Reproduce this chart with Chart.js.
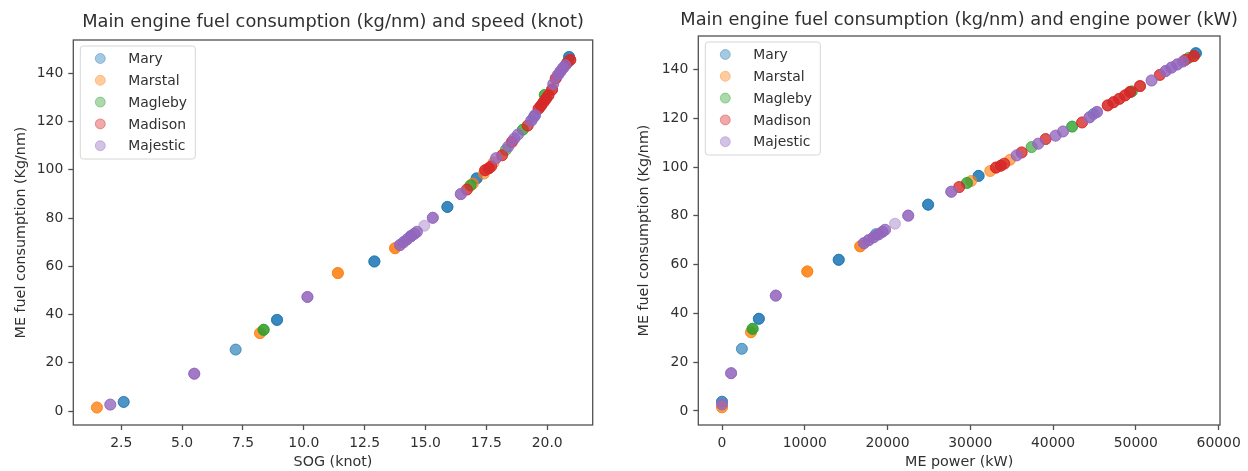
<!DOCTYPE html>
<html>
<head>
<meta charset="utf-8">
<title>ME fuel consumption</title>
<script src="https://cdn.jsdelivr.net/npm/chart.js@4.4.0/dist/chart.umd.min.js"></script>
<style>
  html, body { margin: 0; padding: 0; background: #fff; }
  body { width: 1248px; height: 471px; position: relative; overflow: hidden; }
  canvas { position: absolute; top: 0; }
  #sogChart { left: 0; }
  #powerChart { left: 620px; }
</style>
</head>
<body>
<canvas id="sogChart" width="620" height="471"></canvas>
<canvas id="powerChart" width="628" height="471"></canvas>
<script>
const vessels = ["Mary", "Marstal", "Magleby", "Madison", "Majestic"];

const sogTicks = [2.5, 5, 7.5, 10, 12.5, 15, 17.5, 20];
const powerTicks = [0, 10000, 20000, 30000, 40000, 50000, 60000];
const fuelTicks = [0, 20, 40, 60, 80, 100, 120, 140];

// one entry per operating condition, count = number of log rows at it
const marySog = [2.6, 7.2, 8.9, 12.9, 14.4, 15.9, 17.1, 19.45, 20.9];
const maryPower = [0, 2400, 4450, 14100, 18600, 24900, 31000, 44900, 57250];
const maryFuel = [3.8, 25.5, 37.8, 62.0, 72.5, 84.6, 96.4, 121.8, 146.7];
const maryCount = [3, 2, 4, 4, 2, 4, 4, 2, 4];

const marstalSog = [1.5, 8.2, 11.4, 13.75, 16.95, 17.4, 17.8];
const marstalPower = [0, 3500, 10300, 16700, 30100, 32400, 34800];
const marstalFuel = [1.5, 32.3, 57.2, 67.5, 94.3, 98.4, 103.0];
const marstalCount = [3, 3, 4, 4, 2, 2, 2];

const maglebySog = [8.35, 16.85, 18.3, 19.0, 19.9, 20.85];
const maglebyPower = [3700, 29600, 37400, 42300, 49500, 56400];
const maglebyFuel = [33.7, 93.5, 108.2, 116.6, 131.0, 144.8];
const maglebyCount = [4, 3, 2, 3, 3, 2];

const madisonSog = [16.7, 17.45, 17.6, 17.7, 18.15, 18.55, 19.2, 19.65, 19.75, 19.85, 19.95, 20.05, 20.2, 20.35, 20.8, 20.95];
const madisonPower = [28650, 33100, 33700, 34100, 36200, 39100, 43500, 46600, 47300, 48000, 48700, 49300, 50500, 52900, 56000, 57000];
const madisonFuel = [91.8, 99.8, 100.6, 101.4, 106.0, 111.5, 118.3, 125.3, 126.6, 128.0, 129.4, 130.8, 133.2, 137.8, 144.0, 145.5];
const madisonCount = [3, 4, 4, 3, 3, 3, 3, 4, 4, 4, 4, 4, 4, 3, 3, 4];

const majesticSog = [2.05, 5.5, 10.15, 13.95, 14.1, 14.25, 14.4, 14.55, 14.65, 14.95, 15.3, 16.45, 17.9, 18.4, 18.65, 18.8, 19.35, 19.5, 20.25, 20.45, 20.55, 20.65, 20.75];
const majesticPower = [0, 1100, 6500, 17150, 17700, 18300, 18900, 19400, 19700, 20900, 22500, 27700, 35600, 38200, 40300, 41200, 44400, 45300, 51900, 53600, 54300, 55000, 55700];
const majesticFuel = [2.7, 15.5, 47.3, 68.8, 70.0, 71.2, 72.4, 73.5, 74.3, 76.8, 80.1, 89.9, 104.8, 109.6, 112.9, 114.6, 120.4, 122.6, 135.5, 139.4, 140.8, 142.1, 143.3];
const majesticCount = [3, 4, 4, 4, 4, 4, 4, 4, 3, 1, 4, 4, 3, 3, 3, 3, 4, 4, 3, 4, 4, 4, 3];

const sogByVessel = [marySog, marstalSog, maglebySog, madisonSog, majesticSog];
const powerByVessel = [maryPower, marstalPower, maglebyPower, madisonPower, majesticPower];
const fuelByVessel = [maryFuel, marstalFuel, maglebyFuel, madisonFuel, majesticFuel];
const countByVessel = [maryCount, marstalCount, maglebyCount, madisonCount, majesticCount];

const colors = ["31, 119, 180", "255, 127, 14", "44, 160, 44", "214, 39, 40", "148, 103, 189"];
const alpha = 0.4;
const fontFamily = "'DejaVu Sans', sans-serif";
const textColor = "#303030";
const axisColor = "#505050";

function buildPoints(xs, fuel, count) {
  const pts = [];
  xs.forEach((x, i) => {
    for (let k = 0; k < count[i]; k++) {
      pts.push({ x: x, y: fuel[i] });
    }
  });
  return pts;
}

// axes box drawn on all four sides
const framePlugin = {
  id: "frame",
  afterDatasetsDraw(chart) {
    const { ctx, chartArea: a } = chart;
    ctx.save();
    ctx.strokeStyle = axisColor;
    ctx.lineWidth = 1.3;
    ctx.strokeRect(a.left, a.top, a.right - a.left, a.bottom - a.top);
    ctx.restore();
  },
};

// title centred over the plot area, allowed to run wider than it
const plotTitle = {
  id: "plotTitle",
  afterDraw(chart, args, opts) {
    const { ctx, chartArea: a } = chart;
    ctx.save();
    ctx.font = "17.8px " + fontFamily;
    ctx.fillStyle = textColor;
    ctx.textAlign = "center";
    ctx.textBaseline = "middle";
    ctx.fillText(opts.text, (a.left + a.right) / 2, opts.y);
    ctx.restore();
  },
};

// legend in the upper left corner of the plot area
const cornerLegend = {
  id: "cornerLegend",
  afterDraw(chart) {
    const { ctx, chartArea: a } = chart;
    const boxX = a.left + 7;
    const boxY = a.top + 6;
    const boxW = 115;
    const boxH = 113;
    ctx.save();
    ctx.beginPath();
    ctx.roundRect(boxX, boxY, boxW, boxH, 3);
    ctx.fillStyle = "rgba(255, 255, 255, 0.8)";
    ctx.fill();
    ctx.strokeStyle = "#d6d6d6";
    ctx.lineWidth = 1;
    ctx.stroke();

    ctx.font = "13.9px " + fontFamily;
    ctx.textBaseline = "middle";
    ctx.textAlign = "left";
    vessels.forEach((name, i) => {
      const y = boxY + 12.5 + i * 21.8;
      ctx.beginPath();
      ctx.arc(boxX + 20, y, 5, 0, Math.PI * 2);
      ctx.fillStyle = `rgba(${colors[i]}, ${alpha})`;
      ctx.strokeStyle = `rgba(${colors[i]}, ${alpha})`;
      ctx.fill();
      ctx.stroke();
      ctx.fillStyle = textColor;
      ctx.fillText(name, boxX + 48, y + 1);
    });
    ctx.restore();
  },
};

function makeChart(canvasId, xByVessel, opts) {
  const datasets = vessels.map((name, i) => ({
    label: name,
    data: buildPoints(xByVessel[i], fuelByVessel[i], countByVessel[i]),
    backgroundColor: `rgba(${colors[i]}, ${alpha})`,
    borderColor: `rgba(${colors[i]}, ${alpha})`,
    borderWidth: 1,
    pointRadius: 5.5,
    order: vessels.length - i,
  }));

  const tickFont = { family: fontFamily, size: 13.9 };
  const labelFont = { family: fontFamily, size: 14.3 };

  return new Chart(document.getElementById(canvasId), {
    type: "scatter",
    data: { datasets: datasets },
    options: {
      responsive: false,
      animation: false,
      events: [],
      layout: {
        autoPadding: false,
        padding: { left: 0, right: opts.padRight, top: opts.plotTop, bottom: 0 },
      },
      plugins: {
        legend: { display: false },
        tooltip: { enabled: false },
        title: { display: false },
        plotTitle: { text: opts.title, y: opts.titleY },
      },
      scales: {
        x: {
          type: "linear",
          min: opts.xMin,
          max: opts.xMax,
          afterBuildTicks: (scale) => {
            scale.ticks = opts.xTicks.map((v) => ({ value: v }));
          },
          afterFit: (scale) => {
            scale.height = 46;
          },
          border: { display: false },
          grid: {
            drawOnChartArea: false,
            drawTicks: true,
            tickLength: 5,
            tickColor: axisColor,
            tickWidth: 1.3,
          },
          ticks: {
            autoSkip: false,
            maxRotation: 0,
            padding: 5,
            color: textColor,
            font: tickFont,
            callback: opts.xFormat,
          },
          title: {
            display: true,
            text: opts.xTitle,
            color: textColor,
            font: labelFont,
            padding: 0,
          },
        },
        y: {
          type: "linear",
          min: -5.75,
          max: 153.75,
          afterBuildTicks: (scale) => {
            scale.ticks = fuelTicks.map((v) => ({ value: v }));
          },
          afterFit: (scale) => {
            scale.width = opts.yWidth;
          },
          border: { display: false },
          grid: {
            drawOnChartArea: false,
            drawTicks: true,
            tickLength: 5,
            tickColor: axisColor,
            tickWidth: 1.3,
          },
          ticks: {
            padding: 5,
            color: textColor,
            font: tickFont,
            callback: (v) => String(v),
          },
          title: {
            display: true,
            text: "ME fuel consumption (Kg/nm)",
            color: textColor,
            font: labelFont,
            padding: opts.yTitlePad,
          },
        },
      },
    },
    plugins: [framePlugin, plotTitle, cornerLegend],
  });
}

makeChart("sogChart", sogByVessel, {
  title: "Main engine fuel consumption (kg/nm) and speed (knot)",
  xTitle: "SOG (knot)",
  xTicks: sogTicks,
  xMin: 0.53,
  xMax: 21.87,
  xFormat: (v) => v.toFixed(1),
  yWidth: 73.3,
  padRight: 27.3,
  plotTop: 40,
  titleY: 22.5,
  yTitlePad: 12.5,
});

makeChart("powerChart", powerByVessel, {
  title: "Main engine fuel consumption (kg/nm) and engine power (kW)",
  xTitle: "ME power (kW)",
  xTicks: powerTicks,
  xMin: -2865,
  xMax: 60165,
  xFormat: (v) => String(v),
  yWidth: 78.3,
  padRight: 28,
  plotTop: 36,
  titleY: 20,
  yTitlePad: 15.5,
});
</script>
</body>
</html>
